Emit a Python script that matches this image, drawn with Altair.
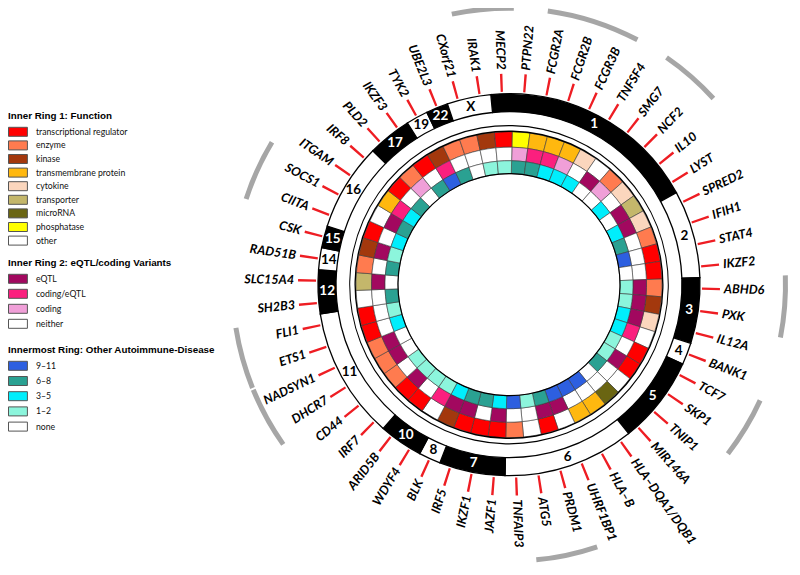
import math
import altair as alt
import pandas as pd

# ---------------- data ----------------
genes = ["PTPN22", "FCGR2A", "FCGR2B", "FCGR3B", "TNFSF4", "SMG7", "NCF2", "IL10", "LYST",
         "SPRED2", "IFIH1", "STAT4", "IKZF2", "ABHD6", "PXK", "IL12A", "BANK1", "TCF7", "SKP1",
         "TNIP1", "MIR146A", "HLA–DQA1/DQB1", "HLA–B", "UHRF1BP1", "PRDM1", "ATG5", "TNFAIP3",
         "JAZF1", "IKZF1", "IRF5", "BLK", "WDYF4", "ARID5B", "IRF7", "CD44", "DHCR7", "NADSYN1",
         "ETS1", "FLI1", "SH2B3", "SLC15A4", "RAD51B", "CSK", "CIITA", "SOCS1", "ITGAM", "IRF8",
         "PLD2", "IKZF3", "TYK2", "UBE2L3", "CXorf21", "IRAK1", "MECP2"]

TR, EN, KI, TM, CY, TP, MI, PH, OT = ("transcriptional regulator", "enzyme", "kinase",
                                      "transmembrane protein", "cytokine", "transporter",
                                      "microRNA", "phosphatase", "other")
functions = [PH, TM, TM, TM, CY, OT, EN, CY, TP,
             CY, EN, TR, TR, EN, KI, CY, OT, TR, TR,
             OT, MI, TM, TM, OT, TR, OT, EN,
             TR, TR, TR, KI, OT, TR, TR, EN, EN, EN,
             TR, TR, OT, TP, EN, KI, TR, OT, TM, TR,
             EN, TR, KI, EN, EN, KI, TR]

E, CE, C, NN = "eQTL", "coding/eQTL", "coding", "neither"
variants = [C, CE, CE, C, NN, E, C, NN, E,
            E, NN, NN, NN, E, E, E, CE, NN, E,
            NN, NN, NN, NN, E, E, NN, NN,
            E, NN, E, E, CE, NN, E, NN, E, E,
            NN, NN, NN, E, NN, E, NN, E, CE, NN,
            C, NN, CE, NN, NN, NN, NN]

A9, A6, A3, A1, A0n = "9–11", "6–8", "3–5", "1–2", "none"
autoimmune = [A6, A6, A3, A3, A3, A0n, A0n, A3, A0n,
              A3, A6, A9, A0n, A1, A1, A3, A3, A1, A1,
              A6, A0n, A9, A9, A9, A6, A1, A9,
              A3, A6, A6, A3, A1, A1, A1, A1, A0n, A0n,
              A3, A1, A6, A0n, A6, A1, A3, A6, A3, A6,
              A0n, A6, A9, A6, A0n, A1, A1]

chrom_names = ["1", "2", "3", "4", "5", "6", "7", "8", "10", "11", "12", "14", "15", "16",
               "17", "19", "22", "X"]
chrom_slots = [10, 4, 3, 1, 4, 6, 3, 1, 2, 6, 2, 1, 1, 4, 2, 1, 1, 2]
chrom_first = -1

hl_start = [52, 1, 5, 13, 17, 24, 35, 37, 43]
hl_slots = [2, 3, 2, 2, 2, 2, 2, 2, 2]

func_cats = [TR, EN, KI, TM, CY, TP, MI, PH, OT]
func_cols = ["#ff0000", "#ff7b4f", "#a3380d", "#ffb80f", "#fbd6bd", "#c4b76b", "#6a6512",
             "#ffff00", "#ffffff"]
var_cats = [E, CE, C, NN]
var_cols = ["#a2085f", "#fb1f7e", "#f09fd8", "#ffffff"]
auto_cats = [A9, A6, A3, A1, A0n]
auto_cols = ["#2d5fe0", "#2aa192", "#00eefc", "#8cf5dc", "#ffffff"]

# ---------------- tables ----------------
N = len(genes)
gene_df = pd.DataFrame({"idx": list(range(N)), "gene": genes, "func": functions,
                        "var": variants, "auto": autoimmune})
starts = []
s = chrom_first
for n in chrom_slots:
    starts.append(s)
    s += n
chrom_df = pd.DataFrame({"name": chrom_names, "k": list(range(len(chrom_names))),
                         "start": starts, "slots": chrom_slots})
hl_df = pd.DataFrame({"start": hl_start, "slots": hl_slots})
full_df = pd.DataFrame({"a": [0], "b": [N]})

# ---------------- geometry / style ----------------
START_DEG = 1.2
A_START = math.radians(START_DEG)
TH = alt.Scale(domain=[0, N], range=[A_START, A_START + 2 * math.pi])
CX = alt.value(501)
CY = alt.value(276.7)
GENE_FONT = "Lato"


def th(field):
    return alt.Theta(field, type="quantitative", scale=TH, stack=None)


hl = alt.Chart(hl_df).transform_calculate(
    a="datum.start + 0.03", b="datum.start + datum.slots - 0.03"
).mark_arc(fill="#a6a6a6").encode(
    x=CX, y=CY, theta=th("a"), theta2=alt.Theta2("b"),
    radius=alt.value(279), radius2=alt.value(274))

chrom = alt.Chart(chrom_df).transform_calculate(
    b="datum.start + datum.slots",
    fc="datum.k % 2 == 0 ? 'black' : 'white'"
).mark_arc(stroke="black", strokeWidth=1.3).encode(
    x=CX, y=CY, theta=th("start"), theta2=alt.Theta2("b"),
    radius=alt.value(191), radius2=alt.value(173),
    fill=alt.Fill("fc:N", scale=None))

chrom_txt = alt.Chart(chrom_df).transform_calculate(
    m="datum.start + datum.slots / 2",
    tc="datum.k % 2 == 0 ? 'white' : 'black'"
).mark_text(font=GENE_FONT, fontWeight="bold", fontSize=13.5, align="center",
            baseline="middle").encode(
    x=CX, y=CY, theta=th("m"), radius=alt.value(182), text="name:N",
    color=alt.Color("tc:N", scale=None))

circ = alt.Chart(full_df).mark_arc(fill="black").encode(
    x=CX, y=CY, theta=th("a"), theta2=alt.Theta2("b"),
    radius=alt.value(159.8), radius2=alt.value(158.5))


def legend(title, ly, rowpad):
    return alt.Legend(title=title, orient="none", legendX=0, legendY=ly,
                      symbolType="M-1,-1H3.2V1H-1Z", symbolSize=81,
                      symbolStrokeColor="#555555", symbolStrokeWidth=1,
                      labelFont="Lato", labelFontSize=8.7, labelColor="#111111",
                      labelOffset=18, labelLimit=300,
                      titleFont="Liberation Sans", titleFontSize=9.8, titleFontWeight="bold",
                      titleColor="black", titlePadding=6, titleLimit=400,
                      rowPadding=rowpad)


def ring(field, cats, cols, title, ro, ri, ly, rowpad):
    return alt.Chart(gene_df).transform_calculate(s1="datum.idx + 1").mark_arc(
        stroke="#3a3a3a", strokeWidth=0.6).encode(
        x=CX, y=CY, theta=th("idx"), theta2=alt.Theta2("s1"),
        radius=alt.value(ro), radius2=alt.value(ri),
        fill=alt.Fill(f"{field}:N", scale=alt.Scale(domain=cats, range=cols),
                      legend=legend(title, ly, rowpad)))


ring1 = ring("func", func_cats, func_cols, "Inner Ring 1: Function", 153, 137.5, 103, -0.4)
ring2 = ring("var", var_cats, var_cols, "Inner Ring 2: eQTL/coding Variants", 137.5, 124, 250, 1)
ring3 = ring("auto", auto_cats, auto_cols, "Innermost Ring: Other Autoimmune-Disease", 124, 111, 337, 1.2)

edge_out = alt.Chart(full_df).mark_arc(fill="black").encode(
    x=CX, y=CY, theta=th("a"), theta2=alt.Theta2("b"),
    radius=alt.value(154.3), radius2=alt.value(152.8))
edge_in = alt.Chart(full_df).mark_arc(fill="black").encode(
    x=CX, y=CY, theta=th("a"), theta2=alt.Theta2("b"),
    radius=alt.value(111.6), radius2=alt.value(110.4))

ticks = alt.Chart(gene_df).transform_calculate(
    t0="datum.idx + 0.5 - 0.05", t1="datum.idx + 0.5 + 0.05"
).mark_arc(fill="#ee1d23").encode(
    x=CX, y=CY, theta=th("t0"), theta2=alt.Theta2("t1"),
    radius=alt.value(211), radius2=alt.value(193))

lab_base = alt.Chart(gene_df).transform_calculate(
    m="datum.idx + 0.5",
    deg=f"{START_DEG} + (datum.idx + 0.5) * 360 / {N}"
)
lab_r = lab_base.transform_filter("datum.deg < 180").transform_calculate(
    ang="(datum.deg + 270) % 360"
).mark_text(font=GENE_FONT, fontWeight="bold", fontStyle="italic", fontSize=12.5,
            align="left", baseline="middle", color="black").encode(
    x=CX, y=CY, theta=th("m"), radius=alt.value(215), text="gene:N",
    angle=alt.Angle("ang:Q", scale=None))
lab_l = lab_base.transform_filter("datum.deg >= 180").transform_calculate(
    ang="(datum.deg + 90) % 360"
).mark_text(font=GENE_FONT, fontWeight="bold", fontStyle="italic", fontSize=12.5,
            align="right", baseline="middle", color="black").encode(
    x=CX, y=CY, theta=th("m"), radius=alt.value(215), text="gene:N",
    angle=alt.Angle("ang:Q", scale=None))

chart = alt.layer(
    hl, chrom, chrom_txt, circ, ring1, ring2, ring3, edge_out, edge_in, ticks, lab_r, lab_l
).resolve_scale(fill="independent").properties(
    width=784, height=559, padding=0, autosize=alt.AutoSizeParams(type="none"),
    background="white"
).configure_view(stroke=None)

chart.save("out.html", embed_options={"renderer": "svg", "actions": False})
